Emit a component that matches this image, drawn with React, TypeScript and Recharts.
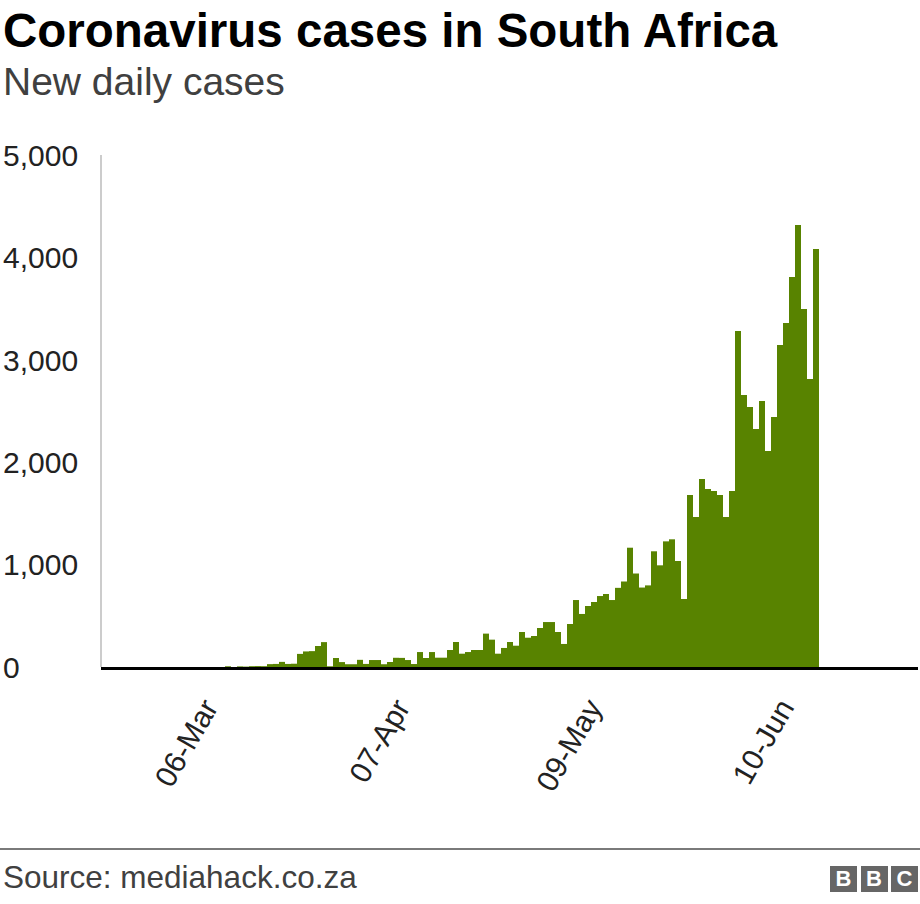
import React from 'react';
import { BarChart, Bar, XAxis, YAxis } from 'recharts';

const FONT = '"Liberation Sans", Arial, Helvetica, sans-serif';

// Days covered by the x axis, and the first day with a reported value
const axisStart = '2020-02-17';
const axisEnd = '2020-06-30';
const firstDay = '2020-03-08';

// New daily cases, one value per day from 08-Mar to 14-Jun
const newCases = [
  7, 0, 6, 4, 8, 9, 8, 28, 30, 50,
  30, 32, 128, 152, 155, 205, 243, 7, 88, 48,
  27, 27, 70, 30, 68, 68, 27, 49, 90, 89,
  68, 29, 146, 88, 146, 91, 91, 166, 244, 130,
  146, 166, 166, 326, 267, 130, 186, 244, 208, 342,
  286, 303, 381, 439, 439, 342, 225, 420, 654, 518,
  596, 635, 693, 713, 654, 773, 835, 1165, 913, 776,
  797, 1130, 993, 1227, 1247, 1035, 664, 1680, 1465, 1836,
  1738, 1719, 1680, 1465, 1719, 3281, 2656, 2539, 2324, 2598,
  2109, 2441, 3145, 3359, 3809, 4316, 3496, 2813, 4082,
];

const dateTicks = ['06-Mar', '07-Apr', '09-May', '10-Jun'];
const caseTicks = [0, 1000, 2000, 3000, 4000, 5000];

const MONTHS = ['Jan', 'Feb', 'Mar', 'Apr', 'May', 'Jun', 'Jul', 'Aug', 'Sep', 'Oct', 'Nov', 'Dec'];
const DAY = 86400000;

const label = (t: number) => {
  const d = new Date(t);
  return `${String(d.getUTCDate()).padStart(2, '0')}-${MONTHS[d.getUTCMonth()]}`;
};

const buildRows = () => {
  const rows: { date: string; cases: number | null }[] = [];
  const first = Date.parse(firstDay);
  for (let t = Date.parse(axisStart); t <= Date.parse(axisEnd); t += DAY) {
    const i = Math.round((t - first) / DAY);
    rows.push({ date: label(t), cases: i >= 0 && i < newCases.length ? newCases[i] : null });
  }
  return rows;
};

const rows = buildRows();

const DateTick = ({ x, y, payload }: any) => (
  <g transform={`translate(${x + 3},${y + 40}) rotate(-60)`}>
    <text textAnchor="end" fill="#222" fontSize={30} fontFamily={FONT}>
      {payload.value}
    </text>
  </g>
);

const CaseTick = ({ y, payload }: any) => (
  <text x={3} y={y} dy="0.36em" fill="#222" fontSize={30} fontFamily={FONT}>
    {Number(payload.value).toLocaleString('en-US')}
  </text>
);

export default function App() {
  return (
    <div style={{ position: 'relative', width: 920, height: 904, background: '#fff', fontFamily: FONT }}>
      <style>{'body{margin:0}'}</style>
      <div style={{ position: 'absolute', left: 3, top: 7, fontSize: 47.5, lineHeight: 1, fontWeight: 700, color: '#000', whiteSpace: 'nowrap' }}>
        Coronavirus cases in South Africa
      </div>
      <div style={{ position: 'absolute', left: 3, top: 62, fontSize: 39, lineHeight: 1, color: '#404040', whiteSpace: 'nowrap' }}>
        New daily cases
      </div>

      <BarChart
        width={920}
        height={904}
        data={rows}
        margin={{ top: 155, right: 2, bottom: 236, left: 100 }}
        barCategoryGap={0}
      >
        <YAxis
          width={1}
          domain={[0, 5000]}
          ticks={caseTicks}
          tick={<CaseTick />}
          tickLine={false}
          axisLine={{ stroke: '#cccccc', strokeWidth: 2 }}
        />
        <Bar dataKey="cases" fill="#588300" isAnimationActive={false} />
        <XAxis
          dataKey="date"
          height={1}
          ticks={dateTicks}
          interval={0}
          padding={{ left: 4, right: 3 }}
          tick={<DateTick />}
          tickLine={false}
          tickSize={0}
          tickMargin={0}
          axisLine={{ stroke: '#000', strokeWidth: 3, transform: 'translate(0,1.5)' }}
        />
      </BarChart>

      <div style={{ position: 'absolute', left: 0, top: 848, width: 920, height: 2, background: '#7a7a7a' }} />
      <div style={{ position: 'absolute', left: 3, top: 862, fontSize: 31.5, lineHeight: 1, color: '#404040', whiteSpace: 'nowrap' }}>
        Source: mediahack.co.za
      </div>
      <div style={{ position: 'absolute', left: 830, top: 866, display: 'flex', gap: 3.5 }}>
        {['B', 'B', 'C'].map((ch, i) => (
          <div
            key={i}
            style={{
              width: 27,
              height: 26,
              background: '#666',
              color: '#fff',
              fontWeight: 700,
              fontSize: 22,
              lineHeight: '26px',
              textAlign: 'center',
            }}
          >
            {ch}
          </div>
        ))}
      </div>
    </div>
  );
}
